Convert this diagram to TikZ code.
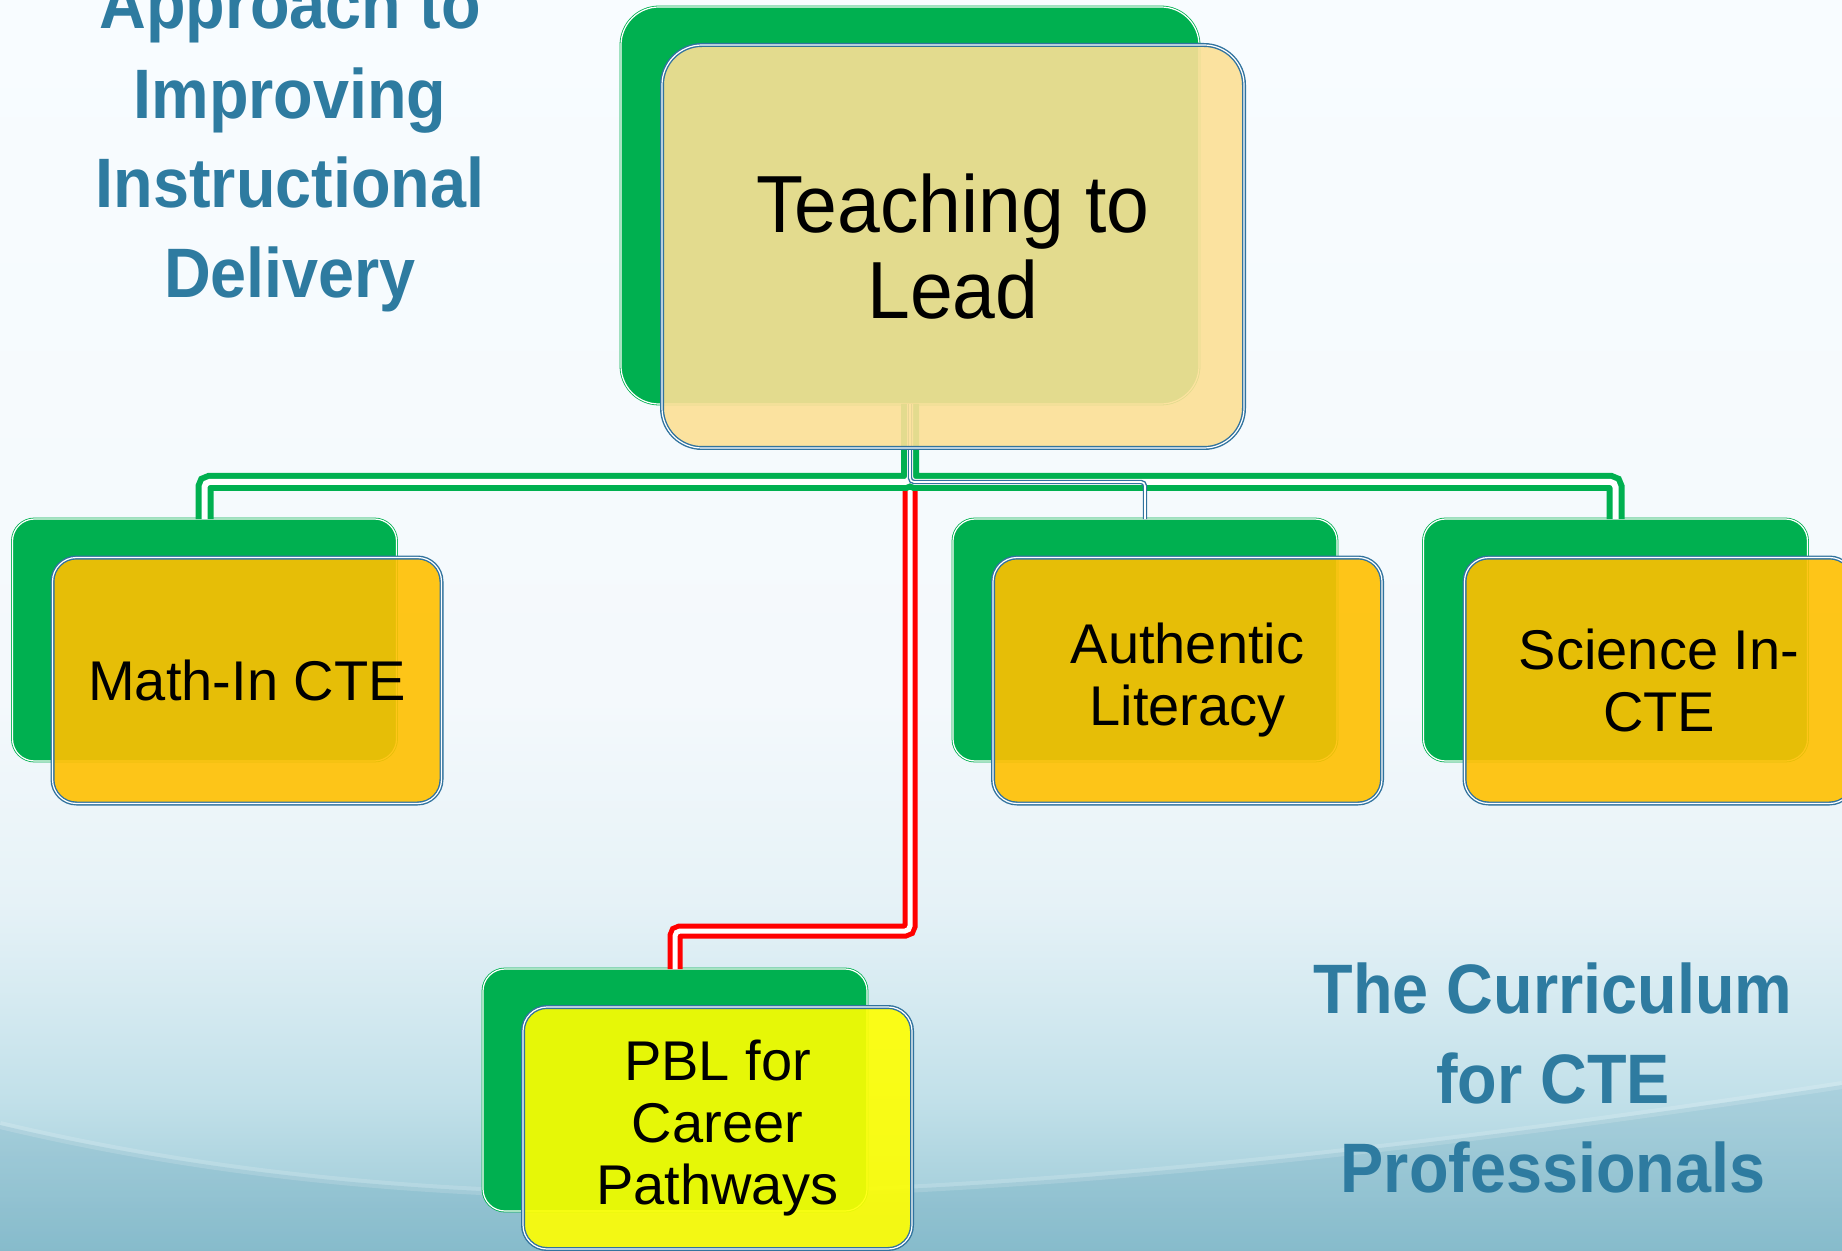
\documentclass[tikz,border=0pt]{standalone}
\usepackage{fontspec}
\setmainfont{Liberation Sans}
\newfontfamily\boxfont{Liberation Sans}
\newfontfamily\topfont[FakeStretch=0.95]{Liberation Sans}
\newfontfamily\titlefont[FakeStretch=0.925]{Liberation Sans Bold}
\definecolor{cgreen}{RGB}{0,176,80}
\definecolor{cgold}{RGB}{255,192,0}
\definecolor{ctop}{RGB}{252,224,149}
\definecolor{cpbl}{RGB}{255,255,0}
\definecolor{boxblue}{RGB}{49,115,158}
\definecolor{cred}{RGB}{255,0,0}
\definecolor{ttblue}{RGB}{46,123,160}
\definecolor{bgA}{RGB}{150,198,212}
\definecolor{bgB}{RGB}{193,224,233}
\definecolor{bgC}{RGB}{213,234,241}
\definecolor{bgD}{RGB}{230,242,247}
\definecolor{bgE}{RGB}{244,249,252}
\definecolor{bgF}{RGB}{248,252,255}
\definecolor{wavecol}{RGB}{80,150,175}
\pgfdeclareverticalshading{bgsh}{100bp}{color(0bp)=(bgA); color(25bp)=(bgA); color(31bp)=(bgB); color(35bp)=(bgC); color(39bp)=(bgD); color(47bp)=(bgE); color(75bp)=(bgF); color(100bp)=(bgF)}
\begin{document}
\begin{tikzpicture}[x=0.5pt,y=-0.5pt,
  greenbox/.style={draw=cgreen, double=white, line width=0.4pt, double distance=0.6pt,
    fill=cgreen, rounded corners=11pt, minimum width=192pt, minimum height=121pt,
    inner sep=0pt, outer sep=0pt},
  goldbox/.style={draw=boxblue, double=white, line width=0.7pt, double distance=0.6pt,
    fill=cgold, fill opacity=0.9, text opacity=1, rounded corners=12pt,
    minimum width=194.5pt, minimum height=123pt, inner sep=0pt, align=center,
    font=\boxfont\fontsize{28}{31}\selectfont},
  gline/.style={draw=cgreen, line width=3pt, double=white, double distance=3pt, rounded corners=2.5pt},
  rline/.style={draw=cred, line width=2.5pt, double=white, double distance=2.5pt, rounded corners=2.5pt},
  bline/.style={draw=boxblue, line width=0.7pt, double=white, double distance=0.8pt, rounded corners=2pt},
  titletext/.style={text=ttblue, align=center, inner sep=0pt,
    font=\titlefont\fontsize{35}{44.75}\selectfont}
]
\useasboundingbox (0,0) rectangle (1842,1251);
% background
\path[shading=bgsh] (0,0) rectangle (1842,1251);
\fill[wavecol, opacity=0.22] (0,1125) .. controls (400,1220) and (900,1230) .. (1842,1085)
  -- (1842,1251) -- (0,1251) -- cycle;
\draw[white, opacity=0.15, line width=4pt] (0,1125) .. controls (400,1220) and (900,1230) .. (1842,1085);

% titles
\node[titletext] (lt) at (290,145) {Approach to\\Improving\\Instructional\\Delivery};
\node[titletext] (rt) at (1553,1078) {The Curriculum\\for CTE\\Professionals};

% back (green) boxes
\node[greenbox, minimum width=289pt, minimum height=198.5pt, rounded corners=19pt] (tg) at (910,205.5) {};
\node[greenbox] (mg) at (204.5,640) {};
\node[greenbox] (ag) at (1145,640) {};
\node[greenbox] (sg) at (1615.5,640) {};
\node[greenbox] (pg) at (675,1090) {};

% connectors
\draw[rline] (tg.south) -- ++(0,527) -| (pg.north);
\draw[gline] (tg.south) -- ++(0,78) -| (mg.north) (tg.south) -- ++(0,78) -| (sg.north);
\draw[bline] (tg.south) -- ++(0,78) -| (ag.north);

% front boxes
\node[goldbox, fill=ctop, minimum width=291pt, minimum height=201.5pt, rounded corners=20pt,
  font=\topfont\fontsize{40.5}{43}\selectfont] (ty) at (953,246.5) {Teaching to\\Lead};
\node[goldbox] (mo) at (247,680.5) {Math-In CTE};
\node[goldbox] (ao) at (1187.5,680.5) {Authentic\\Literacy};
\node[goldbox] (so) at (1659,680.5) {Science In-\\CTE};
\node[goldbox, fill=cpbl, minimum height=121pt] (po) at (717.5,1128) {PBL for\\Career\\Pathways};
\end{tikzpicture}
\end{document}
